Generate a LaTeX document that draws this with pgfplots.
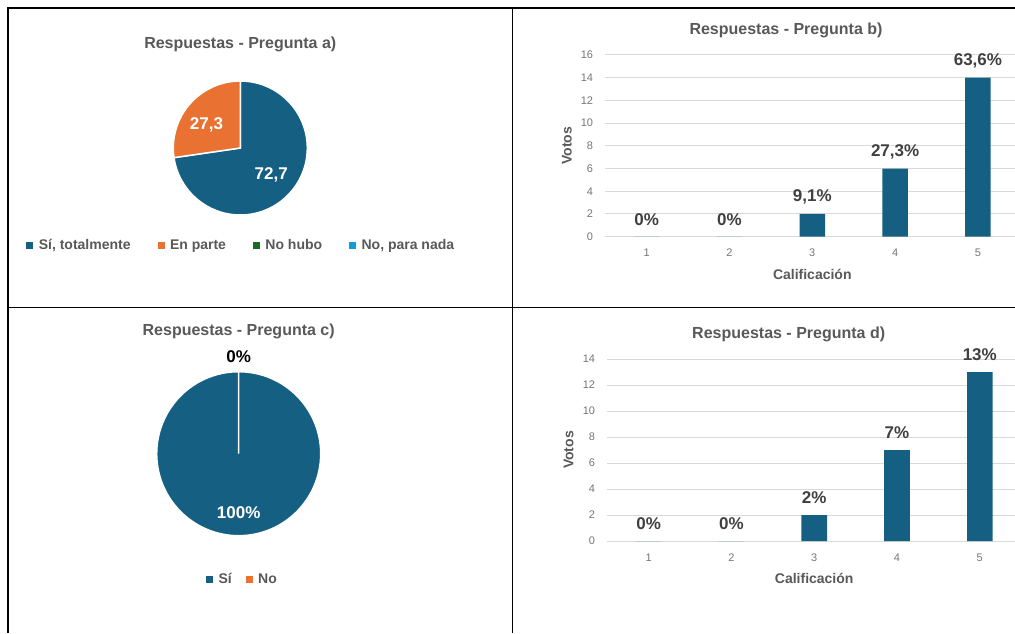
\documentclass[border=0pt]{standalone}
\usepackage{fontspec}
\setmainfont{Liberation Sans}
\usepackage{pgfplots}
\usepackage{pgfplotstable}
\pgfplotsset{compat=1.18}

\definecolor{azul}{HTML}{156082}
\definecolor{naranja}{HTML}{E97132}
\definecolor{verde}{HTML}{196B24}
\definecolor{celeste}{HTML}{0F9ED5}
\definecolor{gristit}{HTML}{595959}
\definecolor{gristick}{HTML}{767676}
\definecolor{grisetq}{HTML}{404040}
\definecolor{grisgrid}{HTML}{D9D9D9}

% datos de las tortas (porcentaje)
\pgfplotstableread{
opcion valor
Si 72.7
EnParte 27.3
NoHubo 0
NoParaNada 0
}\tablaA
\pgfplotstableread{
opcion valor
Si 100
No 0
}\tablaC

% datos de las barras (votos y etiqueta)
\pgfplotstableread{
cal votos etq
1 0 0
2 0 0
3 2 9,1
4 6 27,3
5 14 63,6
}\tablaB
\pgfplotstableread{
cal votos etq
1 0 0
2 0 0
3 2 2
4 7 7
5 13 13
}\tablaD

\pgfplotsset{
  /pgf/number format/assume math mode=true,
  titulo/.style={every axis title/.style={at={(axis description cs:0.5,1)}, anchor=base,
      font=\bfseries\fontsize{16}{19}\selectfont, text=gristit}},
  torta/.style={hide axis, scale only axis, clip=false, titulo,
    xmin=-1, xmax=1, ymin=-1, ymax=1,
    legend columns=-1,
    legend style={draw=none, fill=none, anchor=center,
      font=\bfseries\fontsize{14}{16}\selectfont, text=gristit,
      nodes={inner xsep=0pt, inner ysep=1pt}, column sep=6pt,
      /tikz/every even column/.append style={column sep=27pt}},
    legend image code/.code={\fill[##1] (0pt,-3pt) rectangle (6pt,3pt);}},
  barras/.style={scale only axis, clip=false, titulo, width=414pt,
    ybar, bar width=25.6pt, xmin=0.5, xmax=5.5, ymin=0, xtick={1,...,5},
    ymajorgrids, grid style={draw=grisgrid, line width=1pt},
    axis line style={draw=none}, major tick length=0pt,
    yticklabel style={anchor=east, inner sep=0pt, xshift=-12pt,
      font=\fontsize{11}{13}\selectfont, text=gristick},
    xticklabel style={anchor=center, inner sep=0pt, yshift=-16.3pt,
      font=\fontsize{11}{13}\selectfont, text=gristick},
    xlabel={Calificación}, ylabel={Votos},
    every axis x label/.style={at={(axis description cs:0.5,0)}, anchor=center,
      yshift=-37.5pt, font=\bfseries\fontsize{14}{16}\selectfont, text=gristit},
    every axis y label/.style={at={(axis description cs:0,0.5)}, xshift=-38.5pt,
      rotate=90, anchor=center, font=\bfseries\fontsize{14}{16}\selectfont, text=gristit},
    point meta=explicit symbolic,
    nodes near coords={\pgfplotspointmeta\%},
    nodes near coords align={center},
    every node near coord/.append style={font=\bfseries\fontsize{17}{19}\selectfont,
      text=grisetq, inner sep=0pt, yshift=17pt}},
}

% angulos de las porciones
\pgfplotstablegetelem{0}{valor}\of\tablaA \let\vAa\pgfplotsretval
\pgfplotstablegetelem{1}{valor}\of\tablaA \let\vAb\pgfplotsretval
\pgfplotstablegetelem{0}{valor}\of\tablaC \let\vCa\pgfplotsretval
\pgfplotstablegetelem{1}{valor}\of\tablaC \let\vCb\pgfplotsretval
\pgfmathsetmacro\angAa{90-3.6*\vAa}
\pgfmathsetmacro\angAb{\angAa-3.6*\vAb}
\pgfmathsetmacro\midAa{(90+\angAa)/2}
\pgfmathsetmacro\midAb{(\angAa+\angAb)/2+6.5}
\pgfmathsetmacro\angCa{90-3.6*\vCa}
\pgfmathsetmacro\midCa{(90+\angCa)/2}

\begin{document}
\begin{tikzpicture}
\useasboundingbox (0pt,0pt) rectangle (1015pt,633pt);
\fill[white] (0pt,0pt) rectangle (1015pt,633pt);
\draw[black, line width=1.3pt] (8pt,0pt) -- (8pt,625pt) -- (1015pt,625pt);
\draw[black, line width=1.3pt] (512.5pt,0pt) -- (512.5pt,625pt);
\draw[black, line width=1.3pt] (8pt,325.5pt) -- (1015pt,325.5pt);

% Pregunta a)
\begin{axis}[torta, at={(240.3pt,485pt)}, anchor=center, width=134pt, height=134pt,
  title={Respuestas - Pregunta a)}, title style={yshift=32.7pt},
  legend style={at={(axis description cs:0.5,-0.224)}}]
\addlegendimage{azul}
\addlegendimage{naranja}
\addlegendimage{verde}
\addlegendimage{celeste}
\legend{{Sí, totalmente},{En parte},{No hubo},{No, para nada}}
\fill[azul, draw=white, line width=1.5pt] (axis cs:0,0) -- ++(90:67pt)
  arc[start angle=90, end angle=\angAa, radius=67pt] -- cycle;
\fill[naranja, draw=white, line width=1.5pt] (axis cs:0,0) -- ++(\angAa:67pt)
  arc[start angle=\angAa, end angle=\angAb, radius=67pt] -- cycle;
\node[text=white, font=\bfseries\fontsize{17}{19}\selectfont, shift={(\midAa:40.9pt)}]
  at (axis cs:0,0) {\pgfmathprintnumber[use comma,fixed,precision=1]{\vAa}};
\node[text=white, font=\bfseries\fontsize{17}{19}\selectfont, shift={(\midAb:40.9pt)}]
  at (axis cs:0,0) {\pgfmathprintnumber[use comma,fixed,precision=1]{\vAb}};
\end{axis}

% Pregunta b)
\begin{axis}[barras, at={(605.3pt,396.3pt)}, anchor=south west, height=181.7pt,
  ymax=16, ytick={0,2,...,16},
  title={Respuestas - Pregunta b)}, title style={yshift=20.7pt, xshift=-26.3pt}]
\addplot[fill=azul, draw=none] table[x=cal, y=votos, meta=etq] {\tablaB};
\end{axis}

% Pregunta c)
\begin{axis}[torta, at={(238.7pt,179.3pt)}, anchor=center, width=164pt, height=164pt,
  title={Respuestas - Pregunta c)}, title style={yshift=36.7pt},
  legend style={at={(axis description cs:0.517,-0.264)},
    /tikz/every even column/.append style={column sep=14pt}}]
\addlegendimage{azul}
\addlegendimage{naranja}
\legend{{Sí},{No}}
\fill[azul, draw=white, line width=1.5pt] (axis cs:0,0) -- ++(90:82pt)
  arc[start angle=90, end angle=\angCa, radius=82pt] -- cycle;
\node[text=white, font=\bfseries\fontsize{17}{19}\selectfont, shift={(\midCa:58.6pt)}]
  at (axis cs:0,0) {\pgfmathprintnumber{\vCa}\%};
\node[text=black, font=\bfseries\fontsize{17}{19}\selectfont, shift={(\angCa:97pt)}]
  at (axis cs:0,0) {\pgfmathprintnumber{\vCb}\%};
\end{axis}

% Pregunta d)
\begin{axis}[barras, at={(607.2pt,92pt)}, anchor=south west, height=182pt,
  ymax=14, ytick={0,2,...,14},
  title={Respuestas - Pregunta d)}, title style={yshift=20.7pt, xshift=-25.5pt}]
\addplot[fill=azul, draw=none] table[x=cal, y=votos, meta=etq] {\tablaD};
\end{axis}
\end{tikzpicture}
\end{document}
